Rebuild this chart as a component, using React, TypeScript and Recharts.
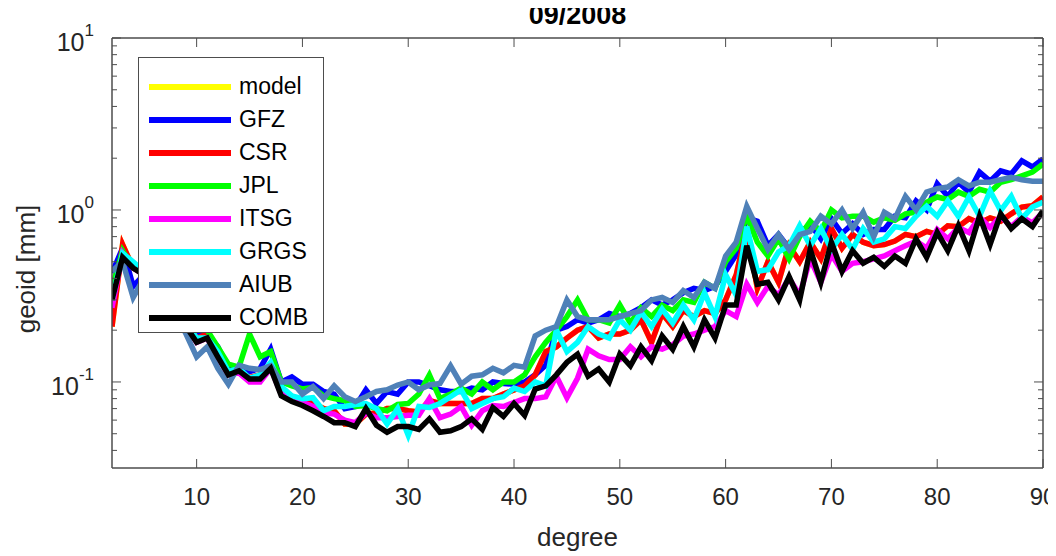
import React from 'react';
import { LineChart, Line, XAxis, YAxis, Legend } from 'recharts';

// spherical harmonic degree 2..90
const degrees = Array.from({ length: 89 }, (_, i) => i + 2);

const gfz = [
  0.43, 0.6, 0.36, 0.42, 0.38, 0.33, 0.27, 0.23,
  0.19, 0.19, 0.16, 0.12, 0.12, 0.115, 0.12, 0.155, 0.1, 0.107,
  0.097, 0.097, 0.088, 0.085, 0.07, 0.072, 0.09, 0.075, 0.088, 0.085,
  0.1, 0.1, 0.095, 0.09, 0.088, 0.088, 0.092, 0.09, 0.1, 0.098,
  0.097, 0.1, 0.11, 0.125, 0.2, 0.21, 0.23, 0.22, 0.23, 0.25,
  0.24, 0.25, 0.27, 0.3, 0.28, 0.3, 0.33, 0.35, 0.34, 0.36,
  0.44, 0.55, 0.9, 0.86, 0.62, 0.72, 0.6, 0.73, 0.83, 0.68,
  0.89, 0.73, 0.83, 0.72, 0.77, 0.77, 0.92, 0.9, 1.13, 1.0,
  1.42, 1.2, 1.45, 1.27, 1.66, 1.47, 1.69, 1.62, 1.93, 1.78,
  1.98,
];

const csr = [
  0.21, 0.63, 0.46, 0.43, 0.39, 0.33, 0.27, 0.22,
  0.18, 0.19, 0.15, 0.115, 0.115, 0.106, 0.11, 0.125, 0.088, 0.082,
  0.078, 0.075, 0.07, 0.068, 0.057, 0.057, 0.065, 0.066, 0.07, 0.07,
  0.068, 0.067, 0.078, 0.075, 0.075, 0.075, 0.075, 0.08, 0.08, 0.085,
  0.09, 0.095, 0.11, 0.15, 0.16, 0.18, 0.2, 0.21, 0.18, 0.19,
  0.19, 0.2, 0.23, 0.17, 0.25, 0.21, 0.26, 0.24, 0.26, 0.25,
  0.3, 0.42, 0.78, 0.35, 0.5, 0.38, 0.62, 0.5, 0.65, 0.52,
  0.78, 0.6, 0.72, 0.65, 0.62, 0.63, 0.66, 0.72, 0.7, 0.75,
  0.72, 0.81, 0.8, 0.89, 0.84, 0.9, 0.86, 0.95, 1.04, 1.06,
  1.19,
];

const jpl = [
  0.35, 0.58, 0.46, 0.43, 0.39, 0.34, 0.28, 0.23,
  0.2, 0.2, 0.16, 0.127, 0.122, 0.19, 0.14, 0.15, 0.1, 0.095,
  0.091, 0.093, 0.083, 0.08, 0.078, 0.072, 0.073, 0.07, 0.068, 0.074,
  0.075, 0.085, 0.11, 0.08, 0.085, 0.092, 0.085, 0.1, 0.09, 0.1,
  0.1, 0.11, 0.14, 0.17, 0.2, 0.24, 0.3, 0.23, 0.23, 0.22,
  0.28, 0.22, 0.27, 0.24, 0.28, 0.26, 0.3, 0.29, 0.38, 0.35,
  0.5, 0.6, 0.93, 0.65, 0.54, 0.68, 0.52, 0.7, 0.86, 0.75,
  1.0, 0.9, 0.92, 0.92, 0.85, 0.9, 0.87, 0.95, 0.97, 1.11,
  1.19, 1.15, 1.27, 1.2, 1.32, 1.27, 1.45, 1.5, 1.58, 1.66,
  1.85,
];

const itsg = [
  0.27, 0.56, 0.46, 0.42, 0.38, 0.32, 0.26, 0.21,
  0.17, 0.18, 0.14, 0.11, 0.113, 0.1, 0.1, 0.12, 0.085, 0.08,
  0.076, 0.072, 0.066, 0.065, 0.06, 0.058, 0.066, 0.062, 0.062, 0.063,
  0.064, 0.064, 0.08, 0.062, 0.065, 0.072, 0.056, 0.068, 0.073, 0.072,
  0.076, 0.08, 0.08, 0.082, 0.108, 0.081, 0.105, 0.155, 0.142, 0.135,
  0.135, 0.16, 0.14, 0.16, 0.155, 0.165, 0.185, 0.19, 0.2, 0.21,
  0.26, 0.24, 0.37, 0.29, 0.36, 0.32, 0.4, 0.32, 0.52, 0.38,
  0.55, 0.44, 0.49, 0.5, 0.52, 0.54, 0.58, 0.62, 0.66, 0.6,
  0.77, 0.68, 0.79, 0.74, 0.91, 0.79, 0.92, 0.8, 0.91, 0.84,
  0.97,
];

const grgs = [
  0.3, 0.56, 0.5, 0.44, 0.4, 0.34, 0.28, 0.22,
  0.18, 0.18, 0.15, 0.115, 0.12, 0.105, 0.11, 0.13, 0.094, 0.083,
  0.08, 0.081, 0.068, 0.072, 0.072, 0.074, 0.075, 0.07, 0.057, 0.07,
  0.049, 0.072, 0.071, 0.075, 0.082, 0.09, 0.07, 0.075, 0.08, 0.082,
  0.092, 0.088, 0.1, 0.095, 0.2, 0.15, 0.17, 0.21, 0.19, 0.18,
  0.23, 0.2, 0.255, 0.21, 0.265, 0.22, 0.28, 0.23, 0.33, 0.24,
  0.42, 0.32, 0.8, 0.44, 0.45, 0.57, 0.62, 0.81, 0.62, 0.78,
  0.59, 0.72, 0.59, 0.78, 0.65, 0.68, 0.8, 0.78, 0.92, 1.05,
  0.92, 1.13, 0.92, 1.19, 0.92, 1.29, 0.99, 1.2, 0.89, 1.04,
  1.11,
];

const aiub = [
  0.44, 0.5, 0.31, 0.4, 0.36, 0.31, 0.25, 0.19,
  0.14, 0.16, 0.12, 0.097, 0.125, 0.12, 0.118, 0.124, 0.1, 0.1,
  0.085, 0.094, 0.08, 0.095, 0.082, 0.077, 0.082, 0.088, 0.09, 0.096,
  0.1, 0.09, 0.096, 0.098, 0.124, 0.097, 0.108, 0.11, 0.12, 0.113,
  0.125, 0.122, 0.185, 0.2, 0.21, 0.3, 0.24, 0.23, 0.23, 0.23,
  0.24, 0.25, 0.26, 0.3, 0.31, 0.29, 0.34, 0.31, 0.38, 0.35,
  0.54, 0.65, 1.05, 0.78, 0.59, 0.72, 0.59, 0.72, 0.75, 0.92,
  0.83, 1.0, 0.78, 0.97, 0.7, 0.97, 0.89, 1.2, 1.0, 1.27,
  1.33, 1.36, 1.5, 1.38, 1.45, 1.45, 1.5, 1.55, 1.5, 1.47,
  1.47,
];

const comb = [
  0.3, 0.53, 0.46, 0.42, 0.38, 0.32, 0.26, 0.21,
  0.17, 0.18, 0.14, 0.11, 0.116, 0.104, 0.104, 0.12, 0.083, 0.077,
  0.073, 0.068, 0.063, 0.058, 0.058, 0.055, 0.07, 0.056, 0.051, 0.055,
  0.055, 0.053, 0.061, 0.051, 0.052, 0.055, 0.061, 0.053, 0.071, 0.063,
  0.075, 0.064, 0.091, 0.095, 0.11, 0.13, 0.145, 0.108, 0.119, 0.1,
  0.145, 0.124, 0.16, 0.133, 0.185, 0.155, 0.21, 0.16, 0.23, 0.18,
  0.28, 0.28, 0.62, 0.37, 0.38, 0.3, 0.41, 0.3, 0.59, 0.38,
  0.65, 0.44, 0.58, 0.49, 0.53, 0.47, 0.54, 0.49, 0.68, 0.53,
  0.74, 0.58, 0.81, 0.58, 0.92, 0.63, 0.95, 0.78, 0.89, 0.8,
  0.99,
];

// the model curve is not visible in the figure, it lies under the CSR curve
const model = csr;

const seriesNames = ['model', 'GFZ', 'CSR', 'JPL', 'ITSG', 'GRGS', 'AIUB', 'COMB'];
const seriesValues = [model, gfz, csr, jpl, itsg, grgs, aiub, comb];
const seriesColors = ['#ffff00', '#0000ff', '#ff0000', '#00ff00', '#ff00ff', '#00ffff', '#4f81b8', '#000000'];

const xTicks = [10, 20, 30, 40, 50, 60, 70, 80, 90];
const yMajor = [0.1, 1, 10];
const yExponents = ['-1', '0', '1'];
const yMinor = [0.04, 0.05, 0.06, 0.07, 0.08, 0.09, 0.2, 0.3, 0.4, 0.5, 0.6, 0.7, 0.8, 0.9, 2, 3, 4, 5, 6, 7, 8, 9];
const yTicks = [...yMinor, ...yMajor].sort((a, b) => a - b);

const data = degrees.map((deg, i) => {
  const row: Record<string, number> = { deg };
  seriesNames.forEach((name, k) => {
    row[name] = seriesValues[k][i];
  });
  return row;
});

const FONT = '"Liberation Sans", Arial, Helvetica, sans-serif';
const AXIS = '#4d4d4d';
const TEXT = '#262626';

const YTick = (props: any) => {
  const { x, y, payload, side } = props;
  const idx = yMajor.indexOf(payload.value);
  const len = idx >= 0 ? 9 : 5;
  const dir = side === 'left' ? 1 : -1;
  return (
    <g>
      <line x1={x} x2={x + dir * len} y1={y} y2={y} stroke={AXIS} strokeWidth={1} />
      {side === 'left' && idx >= 0 && (
        <text x={x - 18} y={y + 13} textAnchor="end" fill={TEXT} fontSize={25} fontFamily={FONT}>
          10
          <tspan dy={-15} fontSize={17}>{yExponents[idx]}</tspan>
        </text>
      )}
    </g>
  );
};

const XTick = (props: any) => {
  const { x, y, payload, side } = props;
  const dir = side === 'bottom' ? -1 : 1;
  return (
    <g>
      <line x1={x} x2={x} y1={y} y2={y + dir * 9} stroke={AXIS} strokeWidth={1} />
      {side === 'bottom' && (
        <text x={x} y={y + 37} textAnchor="middle" fill={TEXT} fontSize={24} fontFamily={FONT}>
          {payload.value}
        </text>
      )}
    </g>
  );
};

const YLabel = (props: any) => {
  const { viewBox } = props;
  const cx = 26;
  const cy = viewBox.y + viewBox.height / 2 + 16;
  return (
    <text x={cx} y={cy} transform={`rotate(-90, ${cx}, ${cy})`} textAnchor="middle" dominantBaseline="central" fill={TEXT} fontSize={26} fontFamily={FONT}>
      geoid [mm]
    </text>
  );
};

const Title = (props: any) => {
  const { viewBox } = props;
  return (
    <text x={viewBox.x + viewBox.width / 2} y={viewBox.y - 13} textAnchor="middle" fill="#000" fontSize={27} fontWeight="bold" fontFamily={FONT}>
      09/2008
    </text>
  );
};

const renderLegend = (props: any) => {
  const items = [...(props.payload || [])].sort(
    (a: any, b: any) => seriesNames.indexOf(a.value) - seriesNames.indexOf(b.value),
  );
  return (
    <div
      style={{
        background: '#fff',
        border: `1px solid ${AXIS}`,
        width: 184,
        height: 262,
        paddingTop: 12,
        fontFamily: FONT,
        fontSize: 23,
        color: '#000',
      }}
    >
      {items.map((item: any) => (
        <div key={item.value} style={{ display: 'flex', alignItems: 'center', height: 33 }}>
          <div style={{ width: 82, height: 6, background: item.color, marginLeft: 10, marginRight: 8 }} />
          <span>{item.value}</span>
        </div>
      ))}
    </div>
  );
};

const App = () => {
  return (
    <div style={{ width: 1056, height: 556, margin: '-8px 0 0 -8px' }}>
      <LineChart width={1056} height={556} data={data} margin={{ top: 37, right: 12, bottom: 48, left: 12 }}>
        <XAxis
          xAxisId="b"
          dataKey="deg"
          type="number"
          domain={[2, 90]}
          ticks={xTicks}
          height={40}
          tickSize={0}
          tickMargin={0}
          stroke={AXIS}
          strokeWidth={1.5}
          tick={<XTick side="bottom" />}
          label={{ value: 'degree', position: 'bottom', offset: 20, fill: TEXT, fontSize: 26, fontFamily: FONT }}
          allowDataOverflow
        />
        <XAxis
          xAxisId="t"
          orientation="top"
          dataKey="deg"
          type="number"
          domain={[2, 90]}
          ticks={xTicks}
          height={1}
          tickSize={0}
          tickMargin={0}
          stroke={AXIS}
          strokeWidth={1.5}
          tick={<XTick side="top" />}
          label={<Title />}
          allowDataOverflow
        />
        <YAxis
          yAxisId="l"
          scale="log"
          domain={[0.0316, 10]}
          ticks={yTicks}
          interval={0}
          width={100}
          tickSize={0}
          tickMargin={0}
          stroke={AXIS}
          strokeWidth={1.5}
          tick={<YTick side="left" />}
          label={<YLabel />}
          allowDataOverflow
        />
        <YAxis
          yAxisId="r"
          orientation="right"
          scale="log"
          domain={[0.0316, 10]}
          ticks={yTicks}
          interval={0}
          width={1}
          tickSize={0}
          tickMargin={0}
          stroke={AXIS}
          strokeWidth={1.5}
          tick={<YTick side="right" />}
          allowDataOverflow
        />
        {seriesNames.map((name, k) => (
          <Line
            key={name}
            xAxisId="b"
            yAxisId="l"
            type="linear"
            dataKey={name}
            name={name}
            stroke={seriesColors[k]}
            strokeWidth={5.5}
            dot={false}
            activeDot={false}
            isAnimationActive={false}
          />
        ))}
        <Legend
          layout="horizontal"
          verticalAlign="middle"
          align="center"
          content={renderLegend}
          wrapperStyle={{ left: 138, top: 57, width: 'auto', height: 'auto' }}
        />
      </LineChart>
    </div>
  );
};

export default App;
